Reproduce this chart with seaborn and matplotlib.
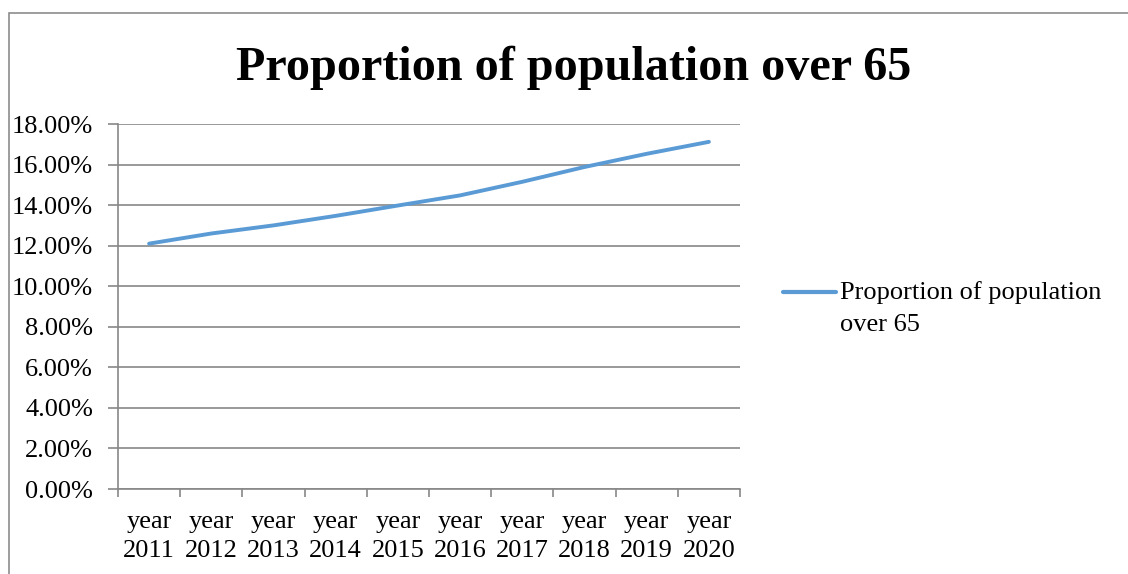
import matplotlib
matplotlib.use("Agg")
import matplotlib.pyplot as plt
import seaborn as sns
import pandas as pd
import numpy as np
from matplotlib.ticker import FixedLocator, PercentFormatter, NullFormatter, FixedFormatter
from matplotlib.patches import Rectangle

# Share of the population aged over 65, by year (percent)
years = ["2011", "2012", "2013", "2014", "2015", "2016", "2017", "2018", "2019", "2020"]
share_over_65 = [12.10, 12.60, 13.00, 13.47, 13.98, 14.48, 15.15, 15.88, 16.53, 17.12]
tick_labels = [f"year\n{y}" for y in years]
title_text = "Proportion of population over 65"
legend_label = "Proportion of population\nover 65"
y_ticks = [0, 2, 4, 6, 8, 10, 12, 14, 16, 18]

W, H = 1128, 574
LINE_BLUE = "#5B9BD5"
GRID_GREY = "#878787"
FS = 19

sns.set_theme(style="white")
plt.rcParams["font.family"] = ["Liberation Serif", "DejaVu Serif"]
plt.rcParams["text.color"] = "black"

fig = plt.figure(figsize=(W / 100, H / 100), dpi=100)
fig.patch.set_facecolor("white")

# chart frame (top and left edges visible)
fig.patches.append(Rectangle((8.5 / W, -0.2), 1.5, 1 - 13.5 / H + 0.2,
                             transform=fig.transFigure, fill=False,
                             edgecolor="#8c8c8c", linewidth=1.2))

ax = fig.add_axes([118 / W, 85 / H, 622 / W, 365 / H])

df = pd.DataFrame({"pos": np.arange(len(years)), "share": share_over_65})
sns.lineplot(data=df, x="pos", y="share", ax=ax, color=LINE_BLUE,
             linewidth=2.8, label=legend_label, solid_capstyle="round")

ax.set_xlim(-0.5, len(years) - 0.5)
ax.set_ylim(0, 18)
ax.set_xlabel("")
ax.set_ylabel("")

# y axis
ax.yaxis.set_major_locator(FixedLocator(y_ticks))
ax.yaxis.set_major_formatter(PercentFormatter(decimals=2))
ax.tick_params(axis="y", which="major", direction="out", length=7, width=1.2,
               color=GRID_GREY, pad=11, labelsize=FS, labelcolor="black", left=True)
ax.grid(axis="y", color=GRID_GREY, linewidth=1.2)
ax.grid(axis="x", visible=False)

# x axis: tick marks between categories, labels at category centres
ax.xaxis.set_major_locator(FixedLocator(np.arange(-0.5, len(years), 1.0)))
ax.xaxis.set_major_formatter(NullFormatter())
ax.xaxis.set_minor_locator(FixedLocator(np.arange(len(years))))
ax.xaxis.set_minor_formatter(FixedFormatter(tick_labels))
ax.tick_params(axis="x", which="major", direction="out", length=6, width=1.2,
               color=GRID_GREY, bottom=True)
ax.tick_params(axis="x", which="minor", length=0, pad=15.5, labelsize=FS,
               labelcolor="black", bottom=True)
for lbl in ax.xaxis.get_minorticklabels():
    lbl.set_linespacing(1.43)

for side in ["top", "right"]:
    ax.spines[side].set_visible(False)
for side in ["left", "bottom"]:
    ax.spines[side].set_color(GRID_GREY)
    ax.spines[side].set_linewidth(1.2)

leg = ax.legend(loc="upper left", bbox_to_anchor=(783 / W, 1 - 281 / H),
                bbox_transform=fig.transFigure, frameon=False, fontsize=FS,
                handlelength=2.0, handletextpad=0.15, borderpad=0,
                borderaxespad=0)
for txt in leg.get_texts():
    txt.set_linespacing(1.6)
    txt.set_color("black")
# keep the legend line level with the first text line
for line in leg.get_lines():
    line.set_linewidth(3)
    line.set_ydata(np.asarray(line.get_ydata()) + 11.5)

fig.text(573.5 / W, 1 - 80 / H, title_text, ha="center", va="baseline",
         fontsize=34.7, fontweight="bold", color="black")

fig.savefig("out.png", dpi=100, facecolor="white")
